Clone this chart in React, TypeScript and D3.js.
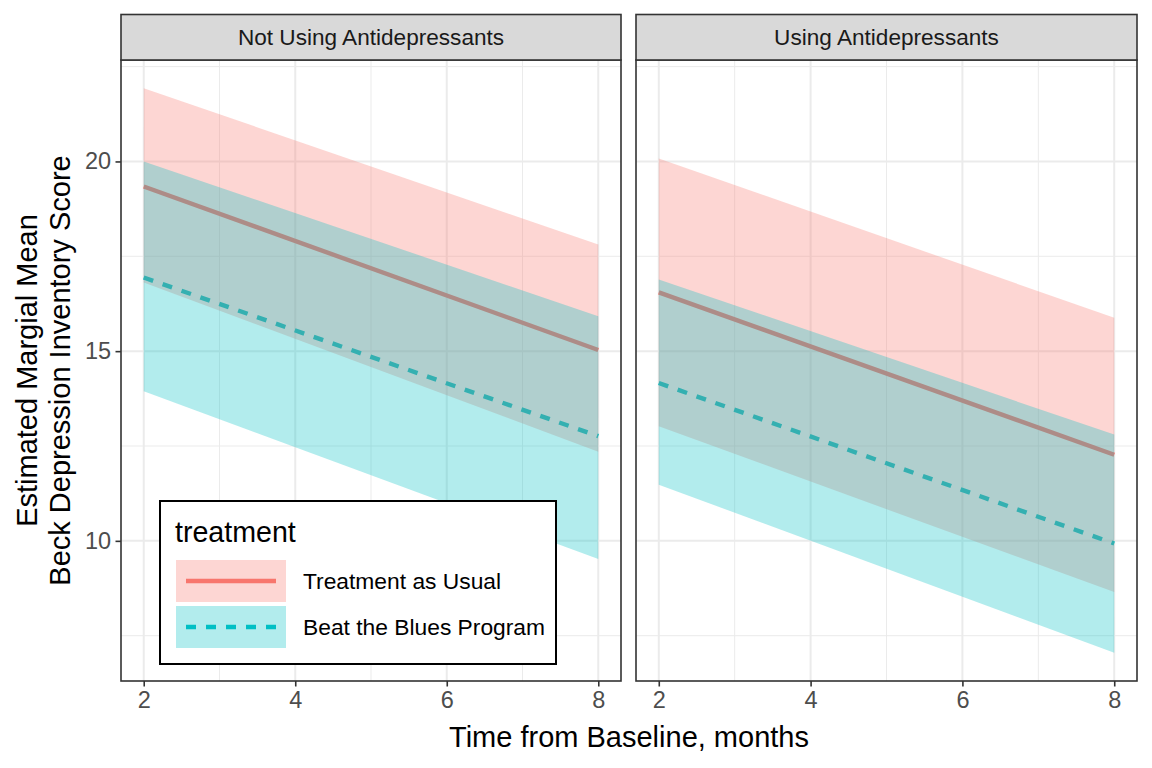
import { area, axisBottom, axisLeft, line, scaleLinear, select } from 'd3'
import { useEffect, useRef } from 'react'

// months from baseline at which the model was evaluated
const months = [2, 8]
const panels = ['Not Using Antidepressants', 'Using Antidepressants']
const treatments = ['Treatment as Usual', 'Beat the Blues Program']
const colors = ['#F8766D', '#00BFC4']

// [panel][month] values
const tauEstimate = [[19.34, 15.03], [16.55, 12.27]]
const tauLower = [[16.81, 12.35], [13.02, 8.65]]
const tauUpper = [[21.93, 17.81], [20.08, 15.88]]
const btbEstimate = [[16.94, 12.76], [14.16, 9.93]]
const btbLower = [[13.94, 9.52], [11.48, 7.05]]
const btbUpper = [[20.0, 15.92], [16.89, 12.8]]

const xTicks = [2, 4, 6, 8]
const xMinor = [3, 5, 7]
const yTicks = [10, 15, 20]
const yMinor = [7.5, 12.5, 17.5, 22.5]

const FONT = '"Liberation Sans", Arial, sans-serif'

export default function App() {
  const svgRef = useRef<SVGSVGElement>(null)

  useEffect(() => {
    const svg = select(svgRef.current)
    svg.selectAll('*').remove()

    const panelTop = 60
    const panelBottom = 681
    const stripTop = 14.5
    const panelX = [
      [121, 621],
      [636, 1137],
    ]

    const allVals = [...tauLower.flat(), ...tauUpper.flat(), ...btbLower.flat(), ...btbUpper.flat()]
    const yMin = Math.min(...allVals)
    const yMax = Math.max(...allVals)
    const yPad = (yMax - yMin) * 0.05
    const y = scaleLinear().domain([yMin - yPad, yMax + yPad]).range([panelBottom, panelTop])

    const xPad = (months[1] - months[0]) * 0.05

    const series = [
      { est: tauEstimate, lo: tauLower, hi: tauUpper, dash: null as string | null },
      { est: btbEstimate, lo: btbLower, hi: btbUpper, dash: '10 10' },
    ]

    panels.forEach((name, p) => {
      const [x0, x1] = panelX[p]
      const x = scaleLinear().domain([months[0] - xPad, months[1] + xPad]).range([x0, x1])
      const g = svg.append('g')

      g.append('rect')
        .attr('x', x0)
        .attr('y', panelTop)
        .attr('width', x1 - x0)
        .attr('height', panelBottom - panelTop)
        .attr('fill', '#fff')

      // grid
      xMinor.forEach((v) =>
        g.append('line').attr('x1', x(v)).attr('x2', x(v)).attr('y1', panelTop).attr('y2', panelBottom)
          .attr('stroke', '#EBEBEB').attr('stroke-width', 1)
      )
      yMinor.forEach((v) =>
        g.append('line').attr('x1', x0).attr('x2', x1).attr('y1', y(v)).attr('y2', y(v))
          .attr('stroke', '#EBEBEB').attr('stroke-width', 1)
      )
      xTicks.forEach((v) =>
        g.append('line').attr('x1', x(v)).attr('x2', x(v)).attr('y1', panelTop).attr('y2', panelBottom)
          .attr('stroke', '#EBEBEB').attr('stroke-width', 2)
      )
      yTicks.forEach((v) =>
        g.append('line').attr('x1', x0).attr('x2', x1).attr('y1', y(v)).attr('y2', y(v))
          .attr('stroke', '#EBEBEB').attr('stroke-width', 2)
      )

      // lines first, ribbons drawn over them
      series.forEach((s, i) => {
        const pts = months.map((m, k) => ({ m, v: s.est[p][k] }))
        g.append('path')
          .attr('d', line<{ m: number; v: number }>().x((d) => x(d.m)).y((d) => y(d.v))(pts) as string)
          .attr('fill', 'none')
          .attr('stroke', colors[i])
          .attr('stroke-width', 4.4)
          .attr('stroke-dasharray', s.dash)
      })
      series.forEach((s, i) => {
        const pts = months.map((m, k) => ({ m, lo: s.lo[p][k], hi: s.hi[p][k] }))
        g.append('path')
          .attr(
            'd',
            area<{ m: number; lo: number; hi: number }>()
              .x((d) => x(d.m))
              .y0((d) => y(d.lo))
              .y1((d) => y(d.hi))(pts) as string
          )
          .attr('fill', colors[i])
          .attr('fill-opacity', 0.3)
      })

      // panel border
      g.append('rect')
        .attr('x', x0)
        .attr('y', panelTop)
        .attr('width', x1 - x0)
        .attr('height', panelBottom - panelTop)
        .attr('fill', 'none')
        .attr('stroke', '#333333')
        .attr('stroke-width', 1.6)

      // strip
      g.append('rect')
        .attr('x', x0)
        .attr('y', stripTop)
        .attr('width', x1 - x0)
        .attr('height', panelTop - stripTop)
        .attr('fill', '#D9D9D9')
        .attr('stroke', '#333333')
        .attr('stroke-width', 1.6)
      g.append('text')
        .attr('x', (x0 + x1) / 2)
        .attr('y', (stripTop + panelTop) / 2)
        .attr('dy', '0.36em')
        .attr('text-anchor', 'middle')
        .attr('font-family', FONT)
        .attr('font-size', 22.6)
        .attr('fill', '#1A1A1A')
        .text(name)

      // x axis
      const xa = g
        .append('g')
        .attr('transform', `translate(0,${panelBottom})`)
        .call(axisBottom(x).tickValues(xTicks).tickSize(5.5).tickPadding(4.4).tickFormat((d) => String(d)))
      xa.select('.domain').remove()
      xa.selectAll('line').attr('stroke', '#333333').attr('stroke-width', 1.6)
      xa.selectAll('text').attr('fill', '#4D4D4D').attr('font-size', 23.5).attr('font-family', FONT)

      if (p === 0) {
        const ya = g
          .append('g')
          .attr('transform', `translate(${x0},0)`)
          .call(axisLeft(y).tickValues(yTicks).tickSize(5.5).tickPadding(4.4).tickFormat((d) => String(d)))
        ya.select('.domain').remove()
        ya.selectAll('line').attr('stroke', '#333333').attr('stroke-width', 1.6)
        ya.selectAll('text').attr('fill', '#4D4D4D').attr('font-size', 23.5).attr('font-family', FONT)
      }
    })

    // axis titles
    svg
      .append('text')
      .attr('x', (panelX[0][0] + panelX[1][1]) / 2)
      .attr('y', 747)
      .attr('text-anchor', 'middle')
      .attr('font-family', FONT)
      .attr('font-size', 29)
      .attr('fill', '#000')
      .text('Time from Baseline, months')

    const yTitle = svg
      .append('text')
      .attr('transform', `translate(0,${(panelTop + panelBottom) / 2}) rotate(-90)`)
      .attr('text-anchor', 'middle')
      .attr('font-family', FONT)
      .attr('font-size', 29)
      .attr('fill', '#000')
    yTitle.append('tspan').attr('x', 0).attr('y', 37).text('Estimated Margial Mean')
    yTitle.append('tspan').attr('x', 0).attr('y', 70).text('Beck Depression Inventory Score')

    // legend
    const lg = svg.append('g')
    lg.append('rect')
      .attr('x', 160)
      .attr('y', 501)
      .attr('width', 396)
      .attr('height', 163)
      .attr('fill', '#fff')
      .attr('stroke', '#000')
      .attr('stroke-width', 2)
    lg.append('text')
      .attr('x', 175)
      .attr('y', 541.5)
      .attr('font-family', FONT)
      .attr('font-size', 28.6)
      .attr('fill', '#000')
      .text('treatment')
    treatments.forEach((t, i) => {
      const ky = 560 + i * 46
      lg.append('rect')
        .attr('x', 176)
        .attr('y', ky)
        .attr('width', 110)
        .attr('height', 42)
        .attr('fill', colors[i])
        .attr('fill-opacity', 0.3)
      lg.append('line')
        .attr('x1', 186)
        .attr('x2', 276)
        .attr('y1', ky + 21)
        .attr('y2', ky + 21)
        .attr('stroke', colors[i])
        .attr('stroke-width', 4.5)
        .attr('stroke-dasharray', series[i].dash)
      lg.append('text')
        .attr('x', 303)
        .attr('y', ky + 21)
        .attr('dy', '0.36em')
        .attr('font-family', FONT)
        .attr('font-size', 22.8)
        .attr('fill', '#000')
        .text(t)
    })
  }, [])

  return (
    <svg
      ref={svgRef}
      width={1152}
      height={768}
      style={{ position: 'absolute', left: 0, top: 0, background: '#fff' }}
    />
  )
}
